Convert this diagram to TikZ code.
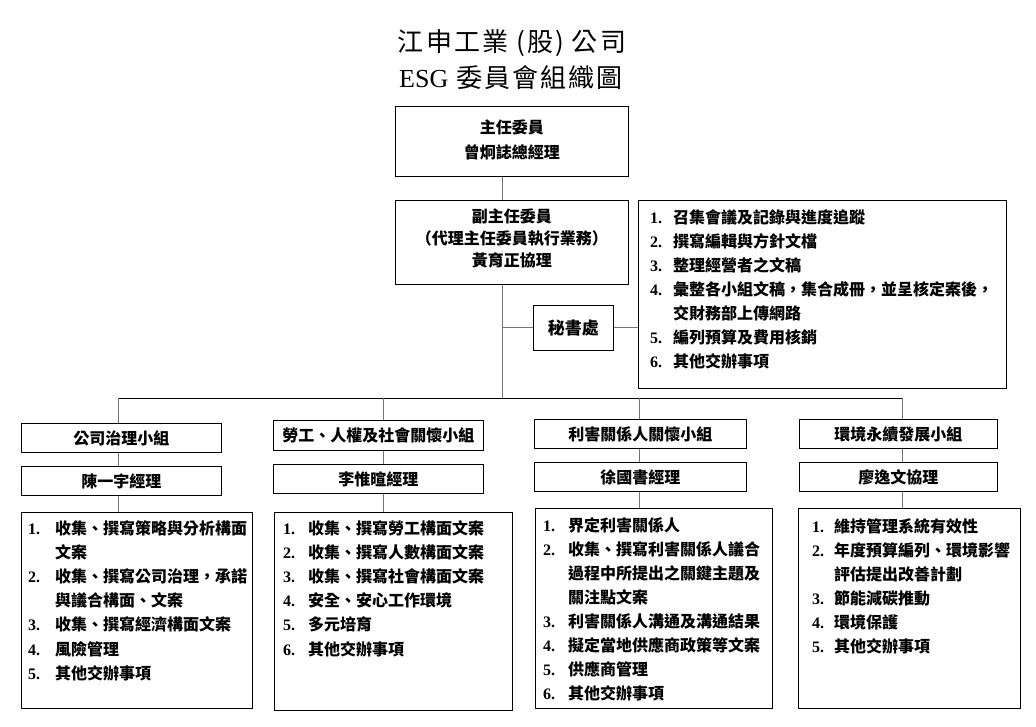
\documentclass[tikz,border=0pt]{standalone}
\usepackage{fontspec}
\setmainfont{Noto Sans CJK TC}
\newfontfamily\titf[LetterSpace=8]{Noto Sans CJK TC}
\newfontfamily\latf{Liberation Serif}
\newfontfamily\numf{Liberation Serif}
\newcommand\itm[1]{{\numf\bfseries #1.}}
\tikzset{
  box/.style={draw, line width=0.9pt, inner sep=0pt, anchor=north west},
  conn/.style={draw=black!55, line width=1pt},
  busline/.style={draw=black, line width=1pt},
  lbl/.style={font=\fontsize{16}{21}\selectfont\bfseries, align=center},
  listtxt/.style={anchor=north west, inner sep=0pt, font=\fontsize{16}{24.2}\selectfont\bfseries, align=left},
}
\begin{document}
\begin{tikzpicture}[x=1pt,y=-1pt]
\useasboundingbox (0,0) rectangle (1036,726);
% title
\node[inner sep=0pt] (title1) at (512,43) {\titf\fontsize{26}{26}\selectfont 江申工業\hspace{8pt}(股)\hspace{8pt}公司};
\node[inner sep=0pt] (title2) at (511,78) {\fontsize{26}{26}\selectfont{\latf ESG}\hspace{8pt}{\titf 委員會組織圖}};
% top boxes
\node[box, minimum width=233pt, minimum height=70pt] (chair) at (395,106) {};
\node[lbl, font=\fontsize{16}{25}\selectfont\bfseries] at ([yshift=2pt]chair.center) {主任委員\\曾炯誌總經理};
\node[box, minimum width=233pt, minimum height=84pt] (vice) at (395,200) {};
\node[lbl, font=\fontsize{16}{22}\selectfont\bfseries] at ([yshift=4pt]vice.center) {副主任委員\\（代理主任委員執行業務）\\黃育正協理};
\node[box, minimum width=80pt, minimum height=45pt] (sec) at (533,305) {};
\node[lbl, font=\fontsize{17}{21}\selectfont\bfseries] at (sec.center) {秘書處};
\node[box, minimum width=368pt, minimum height=188pt] (seclist) at (638,200) {};
\node[listtxt, font=\fontsize{16}{24}\selectfont\bfseries] (sectxt) at (650,206) {\begin{tabular}{@{}p{23pt}@{}l@{}}
\itm{1} & 召集會議及記錄與進度追蹤\\
\itm{2} & 撰寫編輯與方針文檔\\
\itm{3} & 整理經營者之文稿\\
\itm{4} & 彙整各小組文稿，集合成冊，並呈核定案後，\\
 & 交財務部上傳網路\\
\itm{5} & 編列預算及費用核銷\\
\itm{6} & 其他交辦事項
\end{tabular}};
% spine and bus
\coordinate (spine) at (502,398);
\coordinate (b1) at (118,398);
\coordinate (b2) at (383,398);
\coordinate (b3) at (639,398);
\coordinate (b4) at (902,398);
\draw[conn] (chair.south -| spine) -- (vice.north -| spine);
\draw[conn] (vice.south -| spine) -- (spine);
\draw[conn] (spine |- sec.west) -- (sec.west);
\draw[conn] (sec.east) -- (sec.east -| seclist.west);
\draw[busline] (b1) -- (b4);
% group boxes
\node[box, minimum width=200pt, minimum height=29pt] (g1) at (21,423) {};
\node[lbl] at (g1.center) {公司治理小組};
\node[box, minimum width=200pt, minimum height=29pt] (m1) at (21,466) {};
\node[lbl] at (m1.center) {陳一宇經理};
\node[box, minimum width=210pt, minimum height=30pt] (g2) at (273,420) {};
\node[lbl] at (g2.center) {勞工、人權及社會關懷小組};
\node[box, minimum width=210pt, minimum height=29pt] (m2) at (273,464) {};
\node[lbl] at (m2.center) {李惟暄經理};
\node[box, minimum width=212pt, minimum height=29pt] (g3) at (534,419) {};
\node[lbl] at (g3.center) {利害關係人關懷小組};
\node[box, minimum width=212pt, minimum height=29pt] (m3) at (534,462) {};
\node[lbl] at (m3.center) {徐國書經理};
\node[box, minimum width=198pt, minimum height=29pt] (g4) at (799,419) {};
\node[lbl] at (g4.center) {環境永續發展小組};
\node[box, minimum width=198pt, minimum height=29pt] (m4) at (799,462) {};
\node[lbl] at (m4.center) {廖逸文協理};
% list boxes
\node[box, minimum width=231pt, minimum height=196pt] (l1) at (21,512) {};
\node[listtxt] (t1) at (28,517) {\begin{tabular}{@{}p{27pt}@{}l@{}}
\itm{1} & 收集、撰寫策略與分析構面\\
 & 文案\\
\itm{2} & 收集、撰寫公司治理，承諾\\
 & 與議合構面、文案\\
\itm{3} & 收集、撰寫經濟構面文案\\
\itm{4} & 風險管理\\
\itm{5} & 其他交辦事項
\end{tabular}};
\node[box, minimum width=238pt, minimum height=198pt] (l2) at (274,512) {};
\node[listtxt] (t2) at (283,517) {\begin{tabular}{@{}p{25pt}@{}l@{}}
\itm{1} & 收集、撰寫勞工構面文案\\
\itm{2} & 收集、撰寫人數構面文案\\
\itm{3} & 收集、撰寫社會構面文案\\
\itm{4} & 安全、安心工作環境\\
\itm{5} & 多元培育\\
\itm{6} & 其他交辦事項
\end{tabular}};
\node[box, minimum width=237pt, minimum height=200pt] (l3) at (535,508) {};
\node[listtxt, font=\fontsize{16}{24}\selectfont\bfseries] (t3) at (543,514) {\begin{tabular}{@{}p{25pt}@{}l@{}}
\itm{1} & 界定利害關係人\\
\itm{2} & 收集、撰寫利害關係人議合\\
 & 過程中所提出之關鍵主題及\\
 & 關注點文案\\
\itm{3} & 利害關係人溝通及溝通結果\\
\itm{4} & 擬定當地供應商政策等文案\\
\itm{5} & 供應商管理\\
\itm{6} & 其他交辦事項
\end{tabular}};
\node[box, minimum width=222pt, minimum height=200pt] (l4) at (798,508) {};
\node[listtxt, font=\fontsize{16}{24}\selectfont\bfseries] (t4) at (812,515) {\begin{tabular}{@{}p{22pt}@{}l@{}}
\itm{1} & 維持管理系統有效性\\
\itm{2} & 年度預算編列、環境影響\\
 & 評估提出改善計劃\\
\itm{3} & 節能減碳推動\\
\itm{4} & 環境保護\\
\itm{5} & 其他交辦事項
\end{tabular}};
% column connectors
\foreach \i in {1,2,3,4}{
  \draw[conn] (b\i) -- (b\i |- g\i.north);
  \draw[conn] (g\i.south -| b\i) -- (m\i.north -| b\i);
  \draw[conn] (m\i.south -| b\i) -- (l\i.north -| b\i);
}
\end{tikzpicture}
\end{document}
